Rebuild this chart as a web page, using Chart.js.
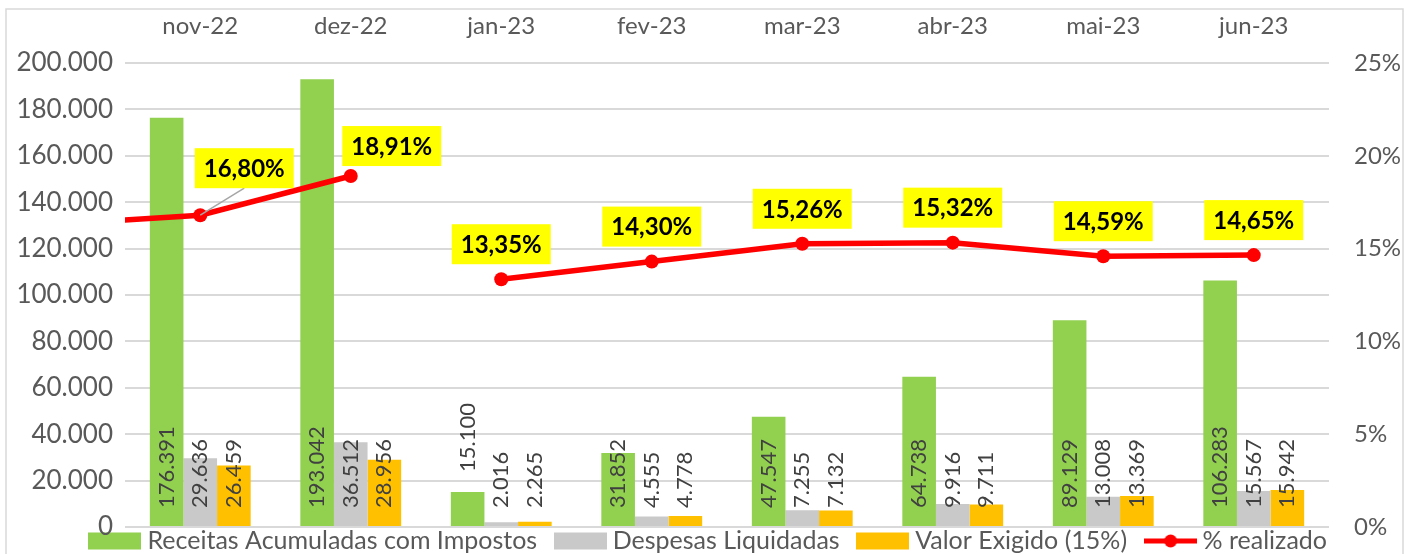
<!DOCTYPE html>
<html>
<head>
<meta charset="utf-8">
<script src="https://cdn.jsdelivr.net/npm/chart.js@4/dist/chart.umd.min.js"></script>
<style>
  html, body { margin: 0; padding: 0; background: #fff; }
  #wrap { position: relative; width: 1414px; height: 554px; }
</style>
</head>
<body>
<div id="wrap"><canvas id="chart" width="1414" height="554"></canvas></div>
<script>
// dados do gráfico
const months = ['nov-22', 'dez-22', 'jan-23', 'fev-23', 'mar-23', 'abr-23', 'mai-23', 'jun-23'];
const receitas = [176391, 193042, 15100, 31852, 47547, 64738, 89129, 106283];
const despesas = [29636, 36512, 2016, 4555, 7255, 9916, 13008, 15567];
const exigido = [26459, 28956, 2265, 4778, 7132, 9711, 13369, 15942];
const realizado = [16.80, 18.91, 13.35, 14.30, 15.26, 15.32, 14.59, 14.65];
// mês anterior (fora da área visível, a linha entra pela borda esquerda)
const prevMonth = 'out-22';
const prevRealizado = 16.28;
const leftTicks = [0, 20000, 40000, 60000, 80000, 100000, 120000, 140000, 160000, 180000, 200000];
const rightTicks = [0, 5, 10, 15, 20, 25];

const labels = [prevMonth].concat(months);
const pad = arr => [null].concat(arr);

const fontFamily = 'Lato, "Open Sans", sans-serif';
const axisColor = '#595959';

function fmtNum(v) {
    return String(v).replace(/\B(?=(\d{3})+(?!\d))/g, '.');
}
function fmtPct(v) {
    return v.toFixed(2).replace('.', ',') + '%';
}

// ícones da legenda
function makeIcon(color, isLine) {
    const cv = document.createElement('canvas');
    cv.width = 53;
    cv.height = 18;
    const c = cv.getContext('2d');
    c.fillStyle = color;
    if (isLine) {
        c.strokeStyle = color;
        c.lineWidth = 5;
        c.beginPath();
        c.moveTo(0, 9);
        c.lineTo(53, 9);
        c.stroke();
        c.beginPath();
        c.arc(27, 9, 6.5, 0, Math.PI * 2);
        c.fill();
    } else {
        c.fillRect(0, 0.5, 53, 17);
    }
    return cv;
}

// deslocamentos manuais de alguns rótulos
const pctShift = { 1: [44, -47], 2: [41, -30] };
const barLift = { '0-3': 55 };
const legendPad = 23;

const frame = {
    id: 'frame',
    beforeDraw(chart) {
        const ctx = chart.ctx;
        ctx.save();
        ctx.strokeStyle = '#d9d9d9';
        ctx.lineWidth = 1.5;
        ctx.strokeRect(6, 9, 1397, 600);
        ctx.restore();
    }
};

const legendFix = {
    id: 'legendFix',
    beforeLayout(chart) {
        const lg = chart.legend;
        if (!lg || lg._fixed) return;
        const fit = lg.fit;
        lg.fit = function() {
            fit.call(this);
            this.height = 27;
        };
        lg._fixed = true;
    },
    afterLayout(chart) {
        chart.legend.top = chart.chartArea.bottom + 14 - 12.5 - legendPad;
    }
};

const barLabels = {
    id: 'barLabels',
    afterDatasetsDraw(chart) {
        const ctx = chart.ctx;
        const base = chart.scales.y.getPixelForValue(0);
        ctx.save();
        ctx.font = '22px ' + fontFamily;
        ctx.fillStyle = '#404040';
        ctx.textAlign = 'left';
        ctx.textBaseline = 'middle';
        chart.data.datasets.forEach((ds, di) => {
            if (ds.type !== 'bar') return;
            chart.getDatasetMeta(di).data.forEach((bar, i) => {
                const v = ds.data[i];
                if (v == null) return;
                const lift = barLift[di + '-' + i] || 19;
                ctx.save();
                ctx.translate(bar.x, base - lift);
                ctx.rotate(-Math.PI / 2);
                ctx.fillText(fmtNum(v), 0, 0);
                ctx.restore();
            });
        });
        ctx.restore();
    }
};

const pctLabels = {
    id: 'pctLabels',
    afterDraw(chart) {
        const ctx = chart.ctx;
        const di = chart.data.datasets.findIndex(d => d.type === 'line');
        const ds = chart.data.datasets[di];
        ctx.save();
        ctx.font = 'bold 24px ' + fontFamily;
        ctx.textAlign = 'center';
        ctx.textBaseline = 'middle';
        chart.getDatasetMeta(di).data.forEach((pt, i) => {
            if (i === 0) return;
            const txt = fmtPct(ds.data[i]);
            const sh = pctShift[i] || [0, -35];
            const cx = pt.x + sh[0];
            const cy = pt.y + sh[1];
            const w = ctx.measureText(txt).width + 18;
            const h = 40;
            if (i === 1) {
                // linha de chamada
                ctx.strokeStyle = '#a6a6a6';
                ctx.lineWidth = 1.5;
                ctx.beginPath();
                ctx.moveTo(pt.x, pt.y);
                ctx.lineTo(cx, cy + h / 2);
                ctx.stroke();
            }
            ctx.fillStyle = '#ffff00';
            ctx.fillRect(cx - w / 2, cy - h / 2, w, h);
            ctx.fillStyle = '#000';
            ctx.fillText(txt, cx, cy + 1);
        });
        ctx.restore();
    }
};

// sem folga extra acima/abaixo dos eixos verticais
function noVPad(s, width) {
    s.width = width;
    s.paddingTop = 0;
    s.paddingBottom = 0;
}

document.addEventListener('DOMContentLoaded', function() {
    const ctx = document.getElementById('chart').getContext('2d');

    new Chart(ctx, {
        data: {
            labels: labels,
            datasets: [
                {
                    type: 'bar',
                    label: 'Receitas Acumuladas com Impostos',
                    data: pad(receitas),
                    backgroundColor: '#92d050',
                    yAxisID: 'y',
                    order: 1
                },
                {
                    type: 'bar',
                    label: 'Despesas Liquidadas',
                    data: pad(despesas),
                    backgroundColor: '#c9c9c9',
                    yAxisID: 'y',
                    order: 1
                },
                {
                    type: 'bar',
                    label: 'Valor Exigido (15%)',
                    data: pad(exigido),
                    backgroundColor: '#ffc000',
                    yAxisID: 'y',
                    order: 1
                },
                {
                    type: 'line',
                    label: '% realizado',
                    data: [prevRealizado].concat(realizado),
                    yAxisID: 'y1',
                    borderColor: '#ff0000',
                    backgroundColor: '#ff0000',
                    borderWidth: 5.5,
                    pointStyle: 'circle',
                    pointRadius: 7,
                    pointHoverRadius: 7,
                    pointBackgroundColor: '#ff0000',
                    pointBorderWidth: 0,
                    tension: 0,
                    order: 0,
                    segment: {
                        borderColor: c => c.p0DataIndex === 2 ? 'rgba(0,0,0,0)' : undefined
                    }
                }
            ]
        },
        options: {
            responsive: false,
            animation: false,
            layout: { padding: { left: 8, right: 0, top: 0, bottom: 0 } },
            datasets: {
                bar: { barPercentage: 1, categoryPercentage: 0.67 }
            },
            plugins: {
                tooltip: { enabled: false },
                legend: {
                    position: 'bottom',
                    labels: {
                        usePointStyle: true,
                        pointStyleWidth: 40,
                        boxHeight: 17,
                        padding: legendPad,
                        color: axisColor,
                        font: { family: fontFamily, size: 25 },
                        generateLabels(chart) {
                            return chart.data.datasets.map((d, i) => ({
                                text: d.label,
                                fillStyle: d.backgroundColor,
                                strokeStyle: d.backgroundColor,
                                lineWidth: 0,
                                pointStyle: makeIcon(d.backgroundColor, d.type === 'line'),
                                fontColor: axisColor,
                                datasetIndex: i,
                                hidden: false
                            }));
                        }
                    }
                }
            },
            scales: {
                x: {
                    position: 'top',
                    min: months[0],
                    offset: true,
                    grid: { display: false, drawTicks: false },
                    border: { display: false },
                    ticks: {
                        color: axisColor,
                        font: { family: fontFamily, size: 24 },
                        padding: 22,
                        maxRotation: 0
                    },
                    afterFit(s) { s.height = 63; }
                },
                y: {
                    position: 'left',
                    min: 0,
                    max: 200000,
                    grid: { color: '#d9d9d9', lineWidth: 2, drawTicks: false },
                    border: { display: false },
                    afterBuildTicks(s) { s.ticks = leftTicks.map(v => ({ value: v })); },
                    ticks: {
                        color: axisColor,
                        font: { family: fontFamily, size: 26 },
                        padding: 12,
                        callback: v => fmtNum(v)
                    },
                    afterFit(s) { noVPad(s, 117); }
                },
                y1: {
                    position: 'right',
                    min: 0,
                    max: 25,
                    grid: { display: false, drawTicks: false },
                    border: { display: false },
                    afterBuildTicks(s) { s.ticks = rightTicks.map(v => ({ value: v })); },
                    ticks: {
                        color: axisColor,
                        font: { family: fontFamily, size: 24 },
                        padding: 25,
                        callback: v => v + '%'
                    },
                    afterFit(s) { noVPad(s, 85); }
                }
            }
        },
        plugins: [frame, legendFix, barLabels, pctLabels]
    });
});
</script>
</body>
</html>
